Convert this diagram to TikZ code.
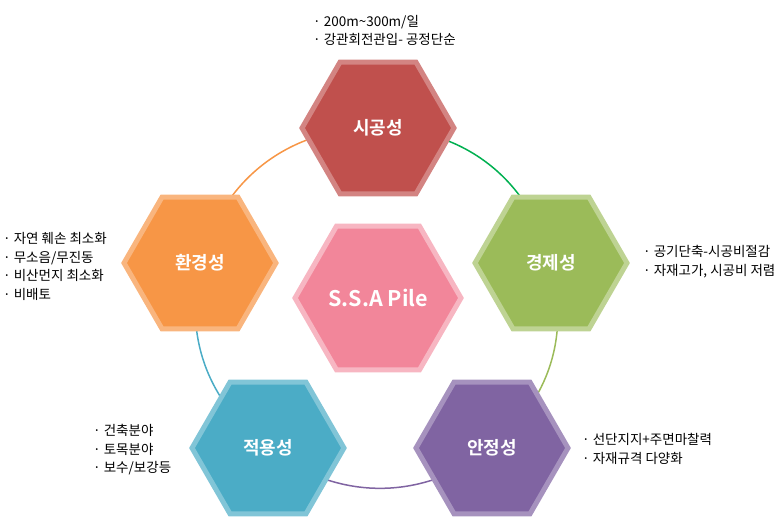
\documentclass[tikz,border=0pt]{standalone}
\usepackage{fontspec}
\setmainfont{Noto Sans CJK KR}[BoldFont={Noto Sans CJK KR Bold}]
\usetikzlibrary{shapes.geometric}
\usetikzlibrary{backgrounds}
\definecolor{sigongred}{HTML}{C0504D}
\definecolor{gyeongjegreen}{HTML}{9BBB59}
\definecolor{anjeongpurple}{HTML}{8064A2}
\definecolor{jeogyongblue}{HTML}{4BACC6}
\definecolor{hwangyeongorange}{HTML}{F79646}
\definecolor{pilepink}{HTML}{F2869A}
\definecolor{ringgreen}{HTML}{00B050}
\tikzset{hexa/.style = {regular polygon, regular polygon sides=6, minimum size=152pt,
    inner sep=0pt, line width=5pt, text=white, font=\fontsize{18}{20}\selectfont\bfseries}}
\tikzset{note/.style = {anchor=west, align=left, inner sep=0pt, font=\fontsize{13.5}{18.5}\selectfont}}
\tikzset{ring/.style = {line width=1.5pt}}

\begin{document}
\begin{tikzpicture}[x=1pt,y=-1pt]
            \useasboundingbox (0,0) rectangle (780,526);

            % Hexagons
            \node[hexa, fill=sigongred, draw=sigongred!70!white] (sigong) at (378,128) {시공성};
            \node[hexa, fill=gyeongjegreen, draw=gyeongjegreen!65!white] (gyeongje) at (551,263) {경제성};
            \node[hexa, fill=anjeongpurple, draw=anjeongpurple!70!white] (anjeong) at (492,448) {안정성};
            \node[hexa, fill=jeogyongblue, draw=jeogyongblue!70!white] (jeogyong) at (268,448) {적용성};
            \node[hexa, fill=hwangyeongorange, draw=hwangyeongorange!70!white] (hwangyeong) at (200,263) {환경성};
            \node[hexa, fill=pilepink, draw=pilepink!60!white, minimum size=166pt,
                font=\fontsize{21.5}{24}\selectfont\bfseries] (pile) at (378,298) {S.S.A Pile};

            % Ring
            \begin{scope}[on background layer]
            \draw[ring, ringgreen] (sigong.center) to[bend left=38] (gyeongje.center);
            \draw[ring, gyeongjegreen] (gyeongje.center) to[bend left=32] (anjeong.center);
            \draw[ring, anjeongpurple] (anjeong.center) to[bend left=38] (jeogyong.center);
            \draw[ring, jeogyongblue] (jeogyong.center) to[bend left=32] (hwangyeong.center);
            \draw[ring, hwangyeongorange] (hwangyeong.center) to[bend left=38] (sigong.center);
            \end{scope}

            % Notes
            \node[note] (sigong-note) at (313,30.5) {· 200m\symbol{"7E}300m/일\\· 강관회전관입- 공정단순};
            \node[note] (gyeongje-note) at (643,261.5) {· 공기단축-시공비절감\\· 자재고가, 시공비 저렴};
            \node[note] (anjeong-note) at (582,449) {· 선단지지+주면마찰력\\· 자재규격 다양화};
            \node[note] (jeogyong-note) at (93,450) {· 건축분야\\· 토목분야\\· 보수/보강등};
            \node[note] (hwangyeong-note) at (3,266.5) {· 자연 훼손 최소화\\· 무소음/무진동\\· 비산먼지 최소화\\· 비배토};

        \end{tikzpicture}
\end{document}
